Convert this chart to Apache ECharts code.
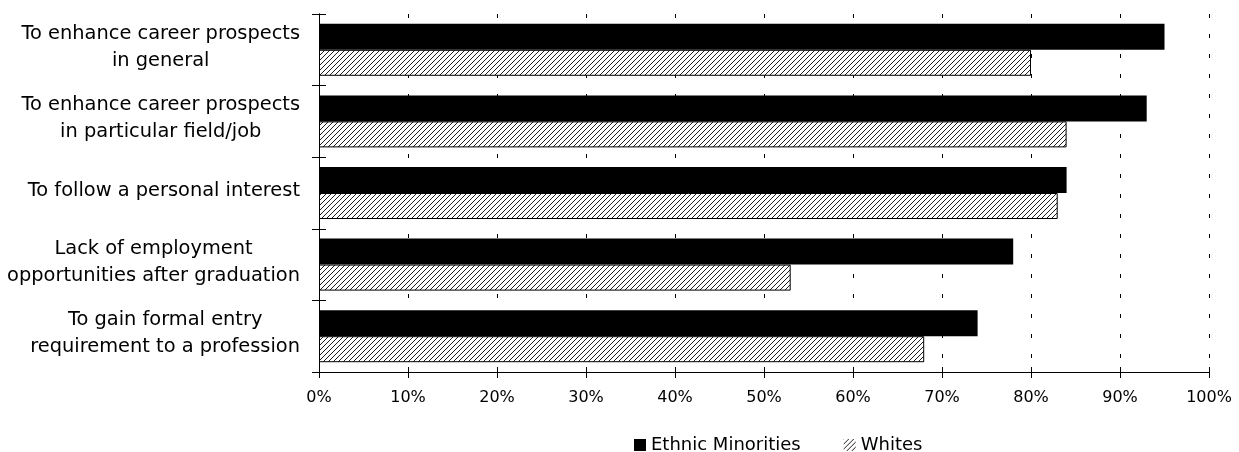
<!DOCTYPE html>
<html>
<head>
<meta charset="utf-8">
<script src="https://cdn.jsdelivr.net/npm/echarts@6/dist/echarts.min.js"></script>
<style>
  html, body { margin: 0; padding: 0; background: #fff; }
  #chart { width: 1239px; height: 452px; }
</style>
</head>
<body>
<div id="chart"></div>
<script>
// Reasons for study, share of respondents by group
const categories = [
  'To enhance career prospects\nin general',
  'To enhance career prospects\nin particular field/job',
  'To follow a personal interest',
  'Lack of employment\nopportunities after graduation',
  'To gain formal entry\nrequirement to a profession'
];
const seriesNames = ['Ethnic Minorities', 'Whites'];
const ethnicMinorities = [95, 93, 84, 78, 74];
const whites = [80, 84, 83, 53, 68];
const tickValues = [0, 10, 20, 30, 40, 50, 60, 70, 80, 90, 100];

const FONT = 'DejaVu Sans';

// Diagonal hatch tile for the second series
function makeHatch() {
  const n = 5;
  const c = document.createElement('canvas');
  c.width = n; c.height = n;
  const ctx = c.getContext('2d');
  const img = ctx.createImageData(n, n);
  for (let y = 0; y < n; y++) {
    for (let x = 0; x < n; x++) {
      const i = (y * n + x) * 4;
      const on = (x + y) % n === n - 1;
      const v = on ? 30 : 255;
      img.data[i] = v; img.data[i + 1] = v; img.data[i + 2] = v; img.data[i + 3] = 255;
    }
  }
  ctx.putImageData(img, 0, 0);
  return c;
}
const hatch = { image: makeHatch(), repeat: 'repeat' };

const chart = echarts.init(document.getElementById('chart'), null, { renderer: 'canvas' });

chart.setOption({
  animation: false,
  textStyle: { fontFamily: FONT },
  grid: { left: 319, right: 30, top: 14, bottom: 80, containLabel: false, outerBoundsMode: 'none' },
  legend: {
    left: 634,
    top: 436,
    padding: 0,
    itemWidth: 12,
    itemHeight: 12,
    itemGap: 43,
    icon: 'rect',
    textStyle: { fontFamily: FONT, fontSize: 18, color: '#000' },
    data: [
      { name: seriesNames[0] },
      { name: seriesNames[1], itemStyle: { borderWidth: 0 } }
    ]
  },
  xAxis: [{
    type: 'value',
    min: 0, max: 100, interval: 10,
    axisLine: { show: true, lineStyle: { color: '#000', width: 1 } },
    axisTick: { show: true, length: 6, lineStyle: { color: '#000' } },
    axisLabel: {
      fontFamily: FONT, fontSize: 16, color: '#000', margin: 18,
      formatter: v => tickValues.includes(v) ? v + '%' : ''
    },
    splitLine: { show: true, lineStyle: { color: '#000', type: [4, 16], width: 1 } }
  }, {
    // inward half of the crossing ticks
    type: 'value', position: 'bottom',
    min: 0, max: 100, interval: 10,
    axisLine: { show: true, onZero: false, lineStyle: { color: '#000', width: 1 } },
    axisTick: { show: true, inside: true, length: 5, lineStyle: { color: '#000' } },
    axisLabel: { show: false },
    splitLine: { show: false }
  }],
  yAxis: [{
    type: 'category',
    inverse: true,
    data: categories,
    axisLine: { show: true, lineStyle: { color: '#000', width: 1 } },
    axisTick: { show: true, length: 7, lineStyle: { color: '#000' } },
    axisLabel: {
      margin: 19,
      lineHeight: 27,
      padding: [0, 0, 5, 0],
      formatter: v => v.split('\n').map(s => '{c|' + s + '}').join('\n'),
      rich: { c: { align: 'center', lineHeight: 27, fontFamily: FONT, fontSize: 19.4, color: '#000' } }
    },
    splitLine: { show: false }
  }, {
    type: 'category',
    inverse: true,
    position: 'left',
    data: categories,
    axisLine: { show: true, onZero: false, lineStyle: { color: '#000', width: 1 } },
    axisTick: { show: true, inside: true, length: 7, lineStyle: { color: '#000' } },
    axisLabel: { show: false },
    splitLine: { show: false }
  }],
  series: [{
    name: seriesNames[0],
    type: 'bar',
    data: ethnicMinorities,
    barWidth: 26,
    barGap: '0%',
    itemStyle: { color: '#000' }
  }, {
    name: seriesNames[1],
    type: 'bar',
    data: whites,
    barWidth: 26,
    barGap: '0%',
    itemStyle: { color: hatch, borderColor: '#000', borderWidth: 1 }
  }, {
    // binds the tick-only axes to the grid so they are drawn
    type: 'line',
    xAxisIndex: 1,
    yAxisIndex: 1,
    data: [[0, 0]],
    symbol: 'none',
    silent: true
  }]
});
</script>
</body>
</html>
